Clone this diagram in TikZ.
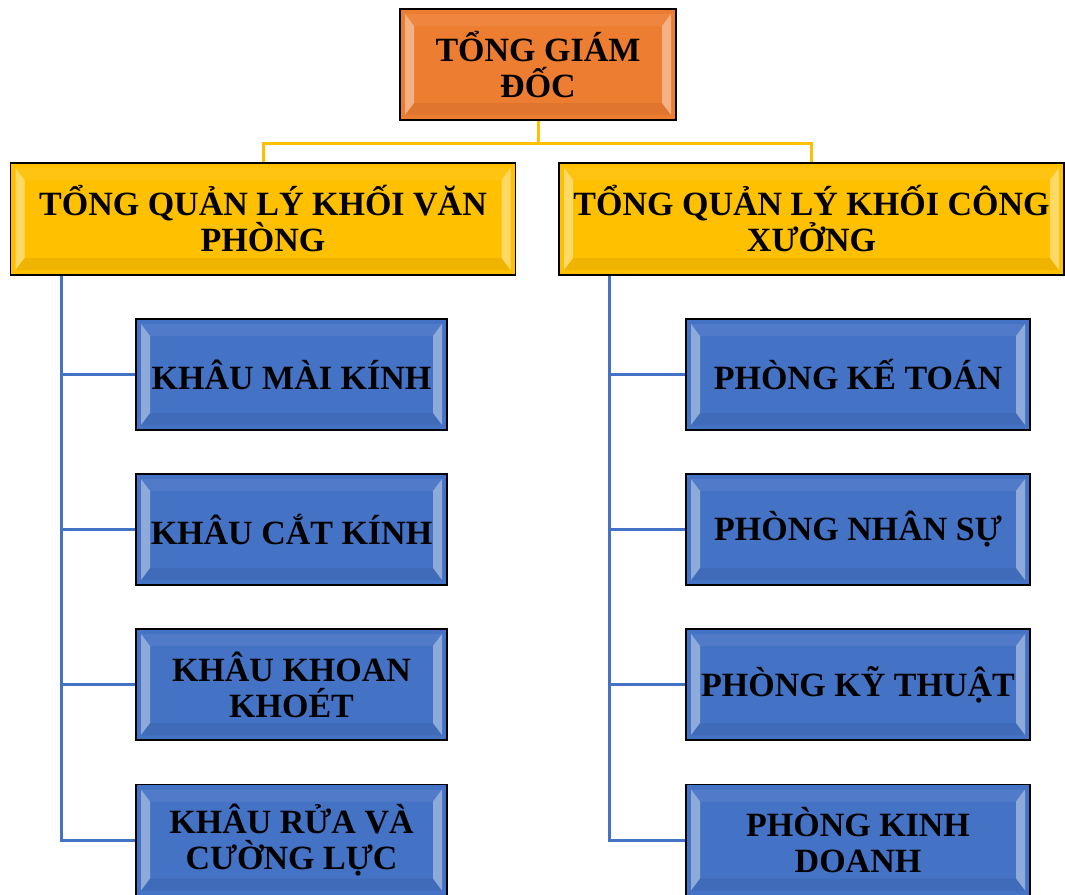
\documentclass[tikz,border=0pt]{standalone}
\usepackage{fontspec}
\setmainfont{Liberation Serif}
\definecolor{cam}{HTML}{ED7D31}
\definecolor{vang}{HTML}{FFC000}
\definecolor{xanh}{HTML}{4472C4}
\tikzset{
  hop/.style={draw=black, line width=1.6pt, inner sep=0pt, align=center,
    font=\bfseries\fontsize{34}{36}\selectfont,
    path picture={
      \fill[white, opacity=.4] ([shift={(5pt,-5pt)}]path picture bounding box.north west) -- ++(9pt,-12pt)
        -- ([shift={(14pt,17pt)}]path picture bounding box.south west) -- ++(-9pt,-12pt) -- cycle;
      \fill[white, opacity=.4] ([shift={(-5pt,-5pt)}]path picture bounding box.north east) -- ++(-9pt,-12pt)
        -- ([shift={(-14pt,17pt)}]path picture bounding box.south east) -- ++(9pt,-12pt) -- cycle;
      \fill[white, opacity=.07] ([shift={(5pt,-5pt)}]path picture bounding box.north west) -- ++(9pt,-12pt)
        -- ([shift={(-14pt,-17pt)}]path picture bounding box.north east) -- ++(9pt,12pt) -- cycle;
      \fill[black, opacity=.06] ([shift={(5pt,5pt)}]path picture bounding box.south west) -- ++(9pt,12pt)
        -- ([shift={(-14pt,17pt)}]path picture bounding box.south east) -- ++(9pt,-12pt) -- cycle;
    }},
  gd/.style={hop, fill=cam, minimum width=276pt, minimum height=111pt},
  khoi/.style={hop, fill=vang, minimum width=505pt, minimum height=112pt},
  khauL/.style={hop, fill=xanh, minimum width=311pt, minimum height=111pt},
  khauR/.style={hop, fill=xanh, minimum width=344pt, minimum height=111pt},
  vline/.style={vang, line width=3pt},
  bline/.style={xanh, line width=3pt}
}
\begin{document}
\begin{tikzpicture}[x=1pt, y=-1pt]
    \useasboundingbox (0,0) rectangle (1065,894);
    \clip (0,0) rectangle (1065,894);

    \node[gd] (tgd) at (538,64.5) {TỔNG GIÁM\\ĐỐC};
    \node[khoi] (vp) at (263,219) {TỔNG QUẢN LÝ KHỐI VĂN\\PHÒNG};
    \node[khoi] (cx) at (811.5,219) {TỔNG QUẢN LÝ KHỐI CÔNG\\XƯỞNG};

    \node[khauL] (l1) at (291.5,374.5) {KHÂU MÀI KÍNH};
    \node[khauL] (l2) at (291.5,529.5) {KHÂU CẮT KÍNH};
    \node[khauL] (l3) at (291.5,684.5) {KHÂU KHOAN\\KHOÉT};
    \node[khauL] (l4) at (291.5,840) {KHÂU RỬA VÀ\\CƯỜNG LỰC};

    \node[khauR] (r1) at (858,374.5) {PHÒNG KẾ TOÁN};
    \node[khauR] (r2) at (858,529.5) {PHÒNG NHÂN SỰ};
    \node[khauR] (r3) at (858,684.5) {PHÒNG KỸ THUẬT};
    \node[khauR] (r4) at (858,840) {PHÒNG KINH\\DOANH};

    \draw[vline] (tgd.south) -- ++(0,23) -| (vp.north);
    \draw[vline] (tgd.south) -- ++(0,23) -| (cx.north);

    \foreach \i in {1,...,4} {
        \draw[bline] ([xshift=52pt]vp.south west) |- (l\i.west);
        \draw[bline] ([xshift=51pt]cx.south west) |- (r\i.west);
    }
\end{tikzpicture}
\end{document}
